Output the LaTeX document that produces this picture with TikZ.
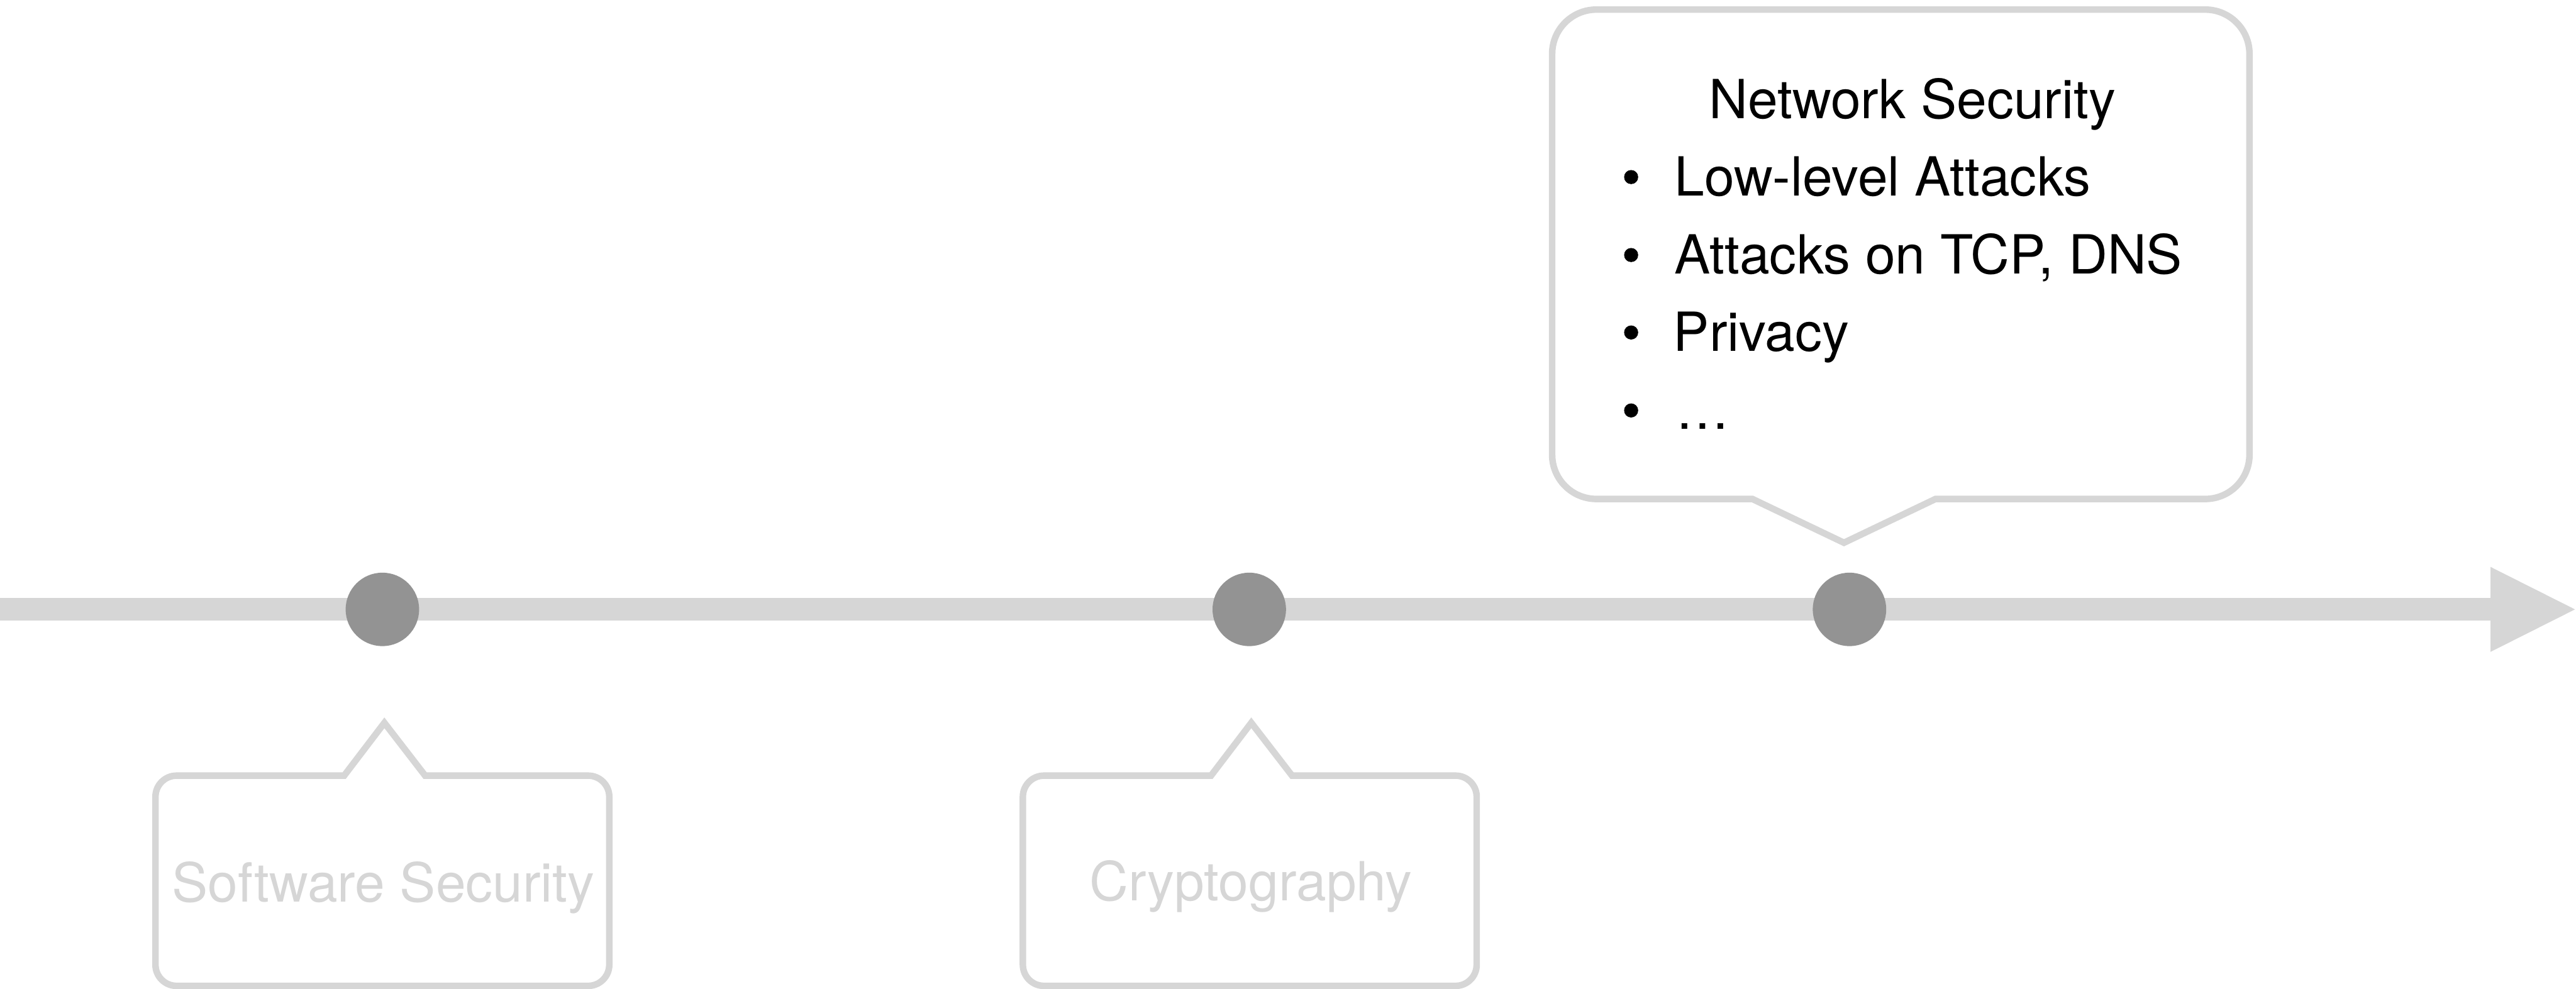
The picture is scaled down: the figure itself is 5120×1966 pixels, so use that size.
\documentclass[tikz,border=0pt]{standalone}
\usepackage{fontspec}
\setmainfont{TeX Gyre Heros}
\usetikzlibrary{calc}

\definecolor{barc}{HTML}{D6D6D6}
\definecolor{dotc}{HTML}{939393}

\tikzset{
  timebar/.style={draw=barc, line width=4.5pt, line cap=butt},
  milestone/.style={circle, fill=dotc, inner sep=0pt, minimum size=14.6pt},
  bubble/.style={draw=barc, line width=1.3pt, line join=miter, fill=white},
  labeltext/.style={inner sep=0pt, anchor=base, font=\fontsize{10.72pt}{12pt}\selectfont},
  fadedlabel/.style={labeltext, text=barc},
  itemtext/.style={labeltext, anchor=base west},
  bulletmark/.style={circle, fill=black, inner sep=0pt, minimum size=2.8pt},
}

\begin{document}
\begin{tikzpicture}[x=0.1pt, y=-0.1pt]
  \useasboundingbox (0,0) rectangle (5120,1966);

  % timeline axis
  \coordinate (tstart) at (0,1211.5);
  \coordinate (thead)  at (4951,1211.5);
  \coordinate (ttip)   at (5118,1211.5);
  \draw[timebar] (tstart) -- (thead);
  \fill[barc] (ttip) -- ($(thead)+(-1,-84.5)$) -- ($(thead)+(-1,84.5)$) -- cycle;

  % milestones
  \node[milestone] (m1) at (760,1211.5) {};
  \node[milestone] (m2) at (2483,1211.5) {};
  \node[milestone] (m3) at (3676,1211.5) {};

  % callout above the third milestone
  \draw[bubble] (3847,992) -- (4383,992)
      arc[start angle=-90, end angle=0, radius=8.8pt] -- (4471,107)
      arc[start angle=0, end angle=90, radius=8.8pt] -- (3173,19)
      arc[start angle=90, end angle=180, radius=8.8pt] -- (3085,904)
      arc[start angle=180, end angle=270, radius=8.8pt] -- (3483,992)
      -- (3665,1079) -- cycle;

  \node[labeltext] (title) at (3801,235) {Network Security};
  \node[bulletmark] (b1) at (3242,352) {};
  \node[bulletmark] (b2) at (3242,507) {};
  \node[bulletmark] (b3) at (3242,661) {};
  \node[bulletmark] (b4) at (3242,816) {};
  \node[itemtext] (i1) at (3326,389) {Low-level Attacks};
  \node[itemtext] (i2) at (3326,544) {Attacks on TCP, DNS};
  \node[itemtext] (i3) at (3324,698) {Privacy};
  \node[itemtext] (i4) at (3329,853) {…};

  % callout below the first milestone
  \draw[bubble] (684,1542) -- (764,1437) -- (845,1542) -- (1169,1542)
      arc[start angle=90, end angle=0, radius=4.2pt] -- (1211,1918)
      arc[start angle=0, end angle=-90, radius=4.2pt] -- (351,1960)
      arc[start angle=270, end angle=180, radius=4.2pt] -- (309,1584)
      arc[start angle=180, end angle=90, radius=4.2pt] -- cycle;
  \node[fadedlabel] (sw) at (762,1793) {Software Security};

  % callout below the second milestone
  \draw[bubble] (2407,1542) -- (2487,1437) -- (2568,1542) -- (2893,1542)
      arc[start angle=90, end angle=0, radius=4.2pt] -- (2935,1918)
      arc[start angle=0, end angle=-90, radius=4.2pt] -- (2075,1960)
      arc[start angle=270, end angle=180, radius=4.2pt] -- (2033,1584)
      arc[start angle=180, end angle=90, radius=4.2pt] -- cycle;
  \node[fadedlabel] (cr) at (2486,1791) {Cryptography};
\end{tikzpicture}
\end{document}
